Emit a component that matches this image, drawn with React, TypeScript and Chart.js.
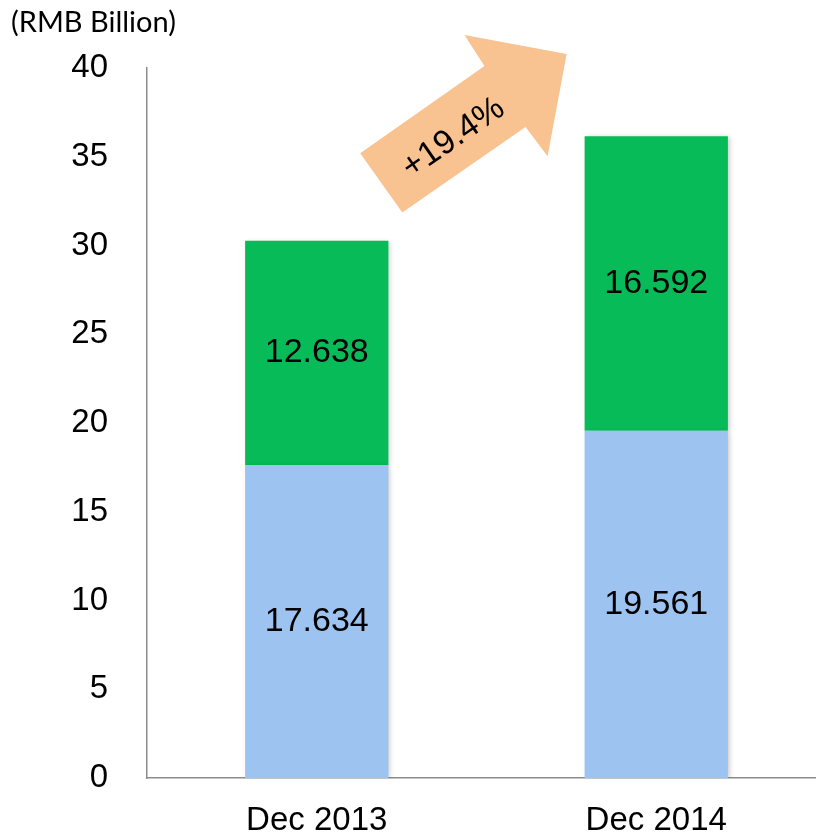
import React, { useEffect, useRef } from "react";
import { Chart, registerables } from "chart.js";

Chart.register(...registerables);

const categories = ["Dec 2013", "Dec 2014"];
const seriesLower = [17.634, 19.561];
const seriesUpper = [12.638, 16.592];
const yTicks = [0, 5, 10, 15, 20, 25, 30, 35, 40];
const unitTitle = "(RMB Billion)";
const growthLabel = "+19.4%";
// arrow outline in (category-index, value) units
const arrowU = [0.128, 0.494, 0.435, 0.736, 0.68, 0.615, 0.252];
const arrowV = [35.2, 40.11, 41.86, 40.79, 35.03, 36.67, 31.86];
const arrowTextPos = [0.403, 36.05];

const BLUE = "#9DC3F0";
const GREEN = "#07BB58";
const PEACH = "#F9C291";
const FONT = '"Liberation Sans", Arial, sans-serif';

const overlayPlugin = {
  id: "overlay",
  beforeDatasetsDraw(chart: any) {
    const ctx = chart.ctx;
    ctx.save();
    ctx.shadowColor = "rgba(0,0,0,0.22)";
    ctx.shadowBlur = 5;
    ctx.shadowOffsetX = 2;
    ctx.shadowOffsetY = 1;
  },
  afterDatasetsDraw(chart: any) {
    const ctx = chart.ctx;
    ctx.restore();
    ctx.save();
    ctx.font = "34px " + FONT;
    ctx.fillStyle = "#000";
    ctx.textAlign = "center";
    ctx.textBaseline = "middle";
    chart.data.datasets.forEach((ds: any, di: number) => {
      const meta = chart.getDatasetMeta(di);
      meta.data.forEach((bar: any, i: number) => {
        const y = (bar.y + bar.base) / 2;
        ctx.fillText(ds.data[i].toFixed(3), bar.x, y);
      });
    });
    ctx.restore();
  },
  afterDraw(chart: any) {
    const ctx = chart.ctx;
    const xs = chart.scales.x;
    const ys = chart.scales.y;
    const step = xs.getPixelForValue(1) - xs.getPixelForValue(0);
    const px = (u: number) => xs.getPixelForValue(0) + u * step;
    const py = (v: number) => ys.getPixelForValue(v);
    ctx.save();
    ctx.fillStyle = PEACH;
    ctx.beginPath();
    arrowU.forEach((u, i) => {
      if (i === 0) ctx.moveTo(px(u), py(arrowV[i]));
      else ctx.lineTo(px(u), py(arrowV[i]));
    });
    ctx.closePath();
    ctx.fill();
    ctx.translate(px(arrowTextPos[0]), py(arrowTextPos[1]));
    ctx.rotate(-34.7 * Math.PI / 180);
    ctx.font = "34px " + FONT;
    ctx.fillStyle = "#000";
    ctx.textAlign = "center";
    ctx.textBaseline = "middle";
    ctx.fillText(growthLabel, 0, 0);
    ctx.restore();
    ctx.save();
    ctx.font = '29px Lato, "Open Sans", sans-serif';
    ctx.fillStyle = "#000";
    ctx.textAlign = "left";
    ctx.textBaseline = "middle";
    ctx.fillText(unitTitle, 11, 23);
    ctx.restore();
  },
};

export default function App() {
  const ref = useRef<HTMLCanvasElement>(null);
  useEffect(() => {
    if (!ref.current) return;
    const chart = new Chart(ref.current, {
      type: "bar",
      data: {
        labels: categories,
        datasets: [
          { data: seriesLower, backgroundColor: BLUE, borderWidth: 0 },
          { data: seriesUpper, backgroundColor: GREEN, borderWidth: 0 },
        ],
      },
      options: {
        responsive: false,
        animation: false,
        layout: { padding: { top: 68, left: 0, right: 0, bottom: 0 } },
        plugins: { legend: { display: false }, tooltip: { enabled: false } },
        datasets: { bar: { barPercentage: 0.422, categoryPercentage: 1 } },
        scales: {
          x: {
            stacked: true,
            grid: { display: false, drawTicks: false },
            border: { display: true, color: "#8c8c8c", width: 1.5 },
            ticks: {
              color: "#000",
              font: { family: FONT, size: 33 },
              padding: 23,
            },
            afterFit(scale: any) {
              scale.height = 56;
            },
          },
          y: {
            stacked: true,
            min: 0,
            max: 40,
            afterBuildTicks(scale: any) {
              scale.ticks = yTicks.map((v) => ({ value: v }));
            },
            grid: { display: false, drawTicks: false },
            border: { display: true, color: "#8c8c8c", width: 1.5 },
            ticks: {
              color: "#000",
              font: { family: FONT, size: 33 },
              padding: 39,
            },
            afterFit(scale: any) {
              scale.width = 147;
              scale.paddingTop = 0;
              scale.paddingBottom = 0;
            },
          },
        },
      },
      plugins: [overlayPlugin],
    });
    return () => chart.destroy();
  }, []);
  return (
    <div style={{ position: "fixed", top: 0, left: 0, width: 816, height: 834, overflow: "hidden", background: "#fff" }}>
      <canvas ref={ref} width={826} height={834} />
    </div>
  );
}
